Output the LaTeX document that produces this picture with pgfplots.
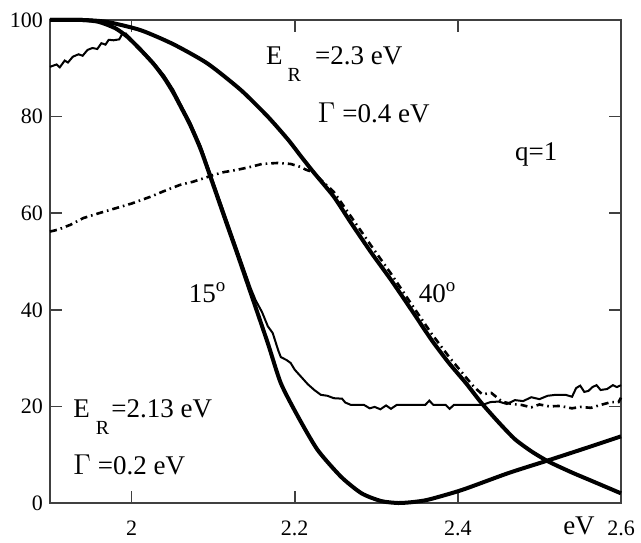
\documentclass[border=0pt]{standalone}
\usepackage{fontspec}
\setmainfont{Liberation Serif}
\usepackage{pgfplots}
\pgfplotsset{compat=1.18}
\begin{document}
\begin{tikzpicture}
\begin{axis}[name=ax, scale only axis, width=285.5pt, height=241.5pt,
 xmin=1.9, xmax=2.6, ymin=0, ymax=100,
 xtick={2,2.2,2.4,2.6}, xticklabels={2,2.2,2.4,2.6},
 ytick={0,20,40,60,80,100},
 tick align=inside, major tick length=6pt,
 axis line style={black!75, line width=0.9pt},
 tick style={black!75, line width=0.8pt},
 tick label style={font=\fontsize{11}{13}\selectfont},
 /pgf/number format/assume math mode=true,
 xticklabel style={yshift=-5.5pt},
 clip=false]
% theory 15 deg
\addplot[black, line width=2pt, smooth, tension=0.4] coordinates {
(1.900,100.0) (1.940,100.0) (1.960,99.6) (1.980,98.3) (1.995,96.5) (2.010,94.0)
(2.027,90.9) (2.040,88.0) (2.051,85.0) (2.062,81.5) (2.072,78.2) (2.085,73.1)
(2.100,65.9) (2.115,58.6) (2.130,51.4) (2.146,43.5) (2.167,33.1) (2.183,24.8)
(2.204,17.9) (2.228,11.0) (2.257,5.4) (2.282,2.0) (2.306,0.4) (2.327,0.0)
(2.345,0.2) (2.364,0.7) (2.405,2.7) (2.462,6.2) (2.512,8.9) (2.561,11.6) (2.600,13.8)};
% theory 40 deg
\addplot[black, line width=2pt, smooth, tension=0.4] coordinates {
(1.900,100.0) (1.940,100.0) (1.970,99.6) (2.011,97.9) (2.051,95.0) (2.093,91.0)
(2.134,85.5) (2.167,80.0) (2.192,75.2) (2.208,71.7) (2.224,68.3) (2.248,63.4)
(2.269,58.0) (2.294,51.8) (2.318,46.2) (2.343,40.0) (2.368,33.7) (2.389,29.0)
(2.410,24.8) (2.429,20.7) (2.450,16.7) (2.470,13.2) (2.491,10.6) (2.512,8.5)
(2.540,6.3) (2.561,4.8) (2.600,2.0)};
% experiment 15 deg
\addplot[black, line width=1pt] coordinates {
(1.900,90.3) (1.908,90.8) (1.912,90.2) (1.918,91.6) (1.922,91.2) (1.928,92.4)
(1.935,92.9) (1.940,92.6) (1.946,93.8) (1.952,94.2) (1.958,94.0) (1.963,95.2)
(1.968,94.9) (1.972,95.9) (1.978,95.8) (1.985,96.0) (1.988,97.0) (1.993,97.2)
(2.002,95.6) (2.010,94.3) (2.027,91.2) (2.040,88.5) (2.051,85.6) (2.062,82.0)
(2.072,78.8) (2.085,73.8) (2.100,66.6) (2.115,59.4) (2.130,52.2) (2.146,44.5)
(2.152,42.0) (2.160,39.5) (2.167,36.6) (2.173,35.2) (2.180,31.5) (2.183,30.2)
(2.190,29.6) (2.195,29.0) (2.200,27.6) (2.208,26.1) (2.216,24.6) (2.224,23.4)
(2.232,22.4) (2.240,22.2) (2.248,21.7) (2.258,21.6) (2.262,20.8) (2.269,20.3)
(2.285,20.3) (2.292,19.6) (2.298,19.9) (2.305,19.4) (2.312,20.2) (2.318,19.5)
(2.325,20.3) (2.360,20.3) (2.365,21.2) (2.370,20.3) (2.385,20.3) (2.390,19.5)
(2.395,20.3) (2.430,20.3) (2.440,20.9) (2.450,21.0) (2.460,20.5) (2.470,21.3)
(2.480,21.1) (2.490,21.9) (2.500,21.5) (2.510,22.2) (2.520,22.4) (2.532,22.4)
(2.540,22.0) (2.545,23.8) (2.550,24.3) (2.555,23.0) (2.560,23.2) (2.565,24.0)
(2.570,24.4) (2.575,23.4) (2.583,23.6) (2.590,24.4) (2.595,24.0) (2.600,24.4)};
% experiment 40 deg
\addplot[black, line width=1.3pt, dash pattern=on 3.5pt off 2pt on 0.8pt off 2pt] coordinates {
(1.900,56.2) (1.910,56.6) (1.925,57.6) (1.941,59.0) (1.960,60.0) (1.982,61.1)
(2.000,62.0) (2.023,63.4) (2.043,64.8) (2.060,65.9) (2.075,66.5) (2.088,67.2)
(2.100,67.9) (2.113,68.5) (2.130,69.0) (2.146,69.6) (2.160,70.2) (2.179,70.4)
(2.195,70.2) (2.205,69.7) (2.214,69.0) (2.222,68.5) (2.248,64.4) (2.269,59.3)
(2.294,53.2) (2.318,47.5) (2.343,41.2) (2.368,35.0) (2.389,30.3) (2.410,26.0)
(2.420,24.0) (2.430,22.5) (2.441,22.8) (2.454,21.0) (2.466,20.5) (2.478,20.3)
(2.490,19.8) (2.500,20.4) (2.512,20.0) (2.525,20.1) (2.540,19.6) (2.550,19.9)
(2.563,19.7) (2.575,20.3) (2.588,20.9) (2.597,20.9) (2.600,21.8)};
% annotations
\node[anchor=base west, inner sep=0, font=\fontsize{13.5}{16}\selectfont] at (axis cs:2.1646,90.7)
 {E\hspace{2.5pt}\raisebox{-8.5pt}{\fontsize{10}{12}\selectfont R}\hspace{7pt}=2.3 eV};
\node[anchor=base west, inner sep=0, font=\fontsize{13.5}{16}\selectfont] at (axis cs:2.228,78.7)
 {$\Gamma$ =0.4 eV};
\node[anchor=base west, inner sep=0, font=\fontsize{13.5}{16}\selectfont] at (axis cs:2.4698,71.0) {q=1};
\node[anchor=base west, inner sep=0, font=\fontsize{13.5}{16}\selectfont] at (axis cs:2.0698,41.6) {15\textsuperscript{o}};
\node[anchor=base west, inner sep=0, font=\fontsize{13.5}{16}\selectfont] at (axis cs:2.3517,41.6) {40\textsuperscript{o}};
\node[anchor=base west, inner sep=0, font=\fontsize{13.5}{16}\selectfont] at (axis cs:1.9283,17.6)
 {E\hspace{3pt}\raisebox{-8.5pt}{\fontsize{10}{12}\selectfont R}\hspace{1pt}=2.13 eV};
\node[anchor=base west, inner sep=0, font=\fontsize{13.5}{16}\selectfont] at (axis cs:1.9283,5.8)
 {$\Gamma$ =0.2 eV};
\node[anchor=base, inner sep=0, font=\fontsize{13.5}{16}\selectfont] at (axis cs:2.5485,-6.6) {eV};
\end{axis}
\pgfresetboundingbox
\path[use as bounding box] ([xshift=-25pt,yshift=-19.5pt]ax.south west) rectangle ([xshift=10pt,yshift=10pt]ax.north east);
\end{tikzpicture}
\end{document}
